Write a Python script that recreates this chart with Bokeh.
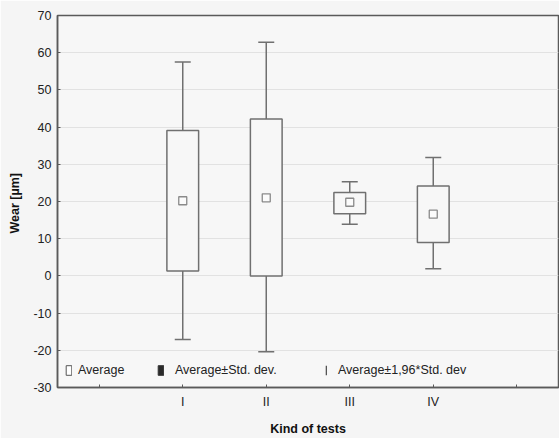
from bokeh.plotting import figure
from bokeh.models import (Range1d, FixedTicker, ColumnDataSource, Legend, LegendItem)
from bokeh.embed import file_html
from bokeh.resources import INLINE

categories = ["I", "II", "III", "IV"]
means = [20.2, 21.0, 19.8, 16.6]
sd_low = [1.3, 0.0, 16.7, 9.0]
sd_high = [39.1, 42.2, 22.4, 24.2]
ci_low = [-17.1, -20.4, 13.9, 1.9]
ci_high = [57.5, 62.8, 25.3, 31.8]
y_ticks = [-30, -20, -10, 0, 10, 20, 30, 40, 50, 60, 70]
legend_labels = ["Average", "Average±Std. dev.", "Average±1,96*Std. dev"]

xs = list(range(1, len(categories) + 1))
src = ColumnDataSource(dict(x=xs, mean=means, sdl=sd_low, sdh=sd_high, cil=ci_low, cih=ci_high))

FONT = "Liberation Sans"
LINE = "#707070"
BG = "#f7f7f7"

p = figure(width=559, height=438, output_backend="svg", toolbar_location=None,
           x_range=Range1d(-0.5, len(categories) + 1.5), y_range=Range1d(-30, 70),
           min_border_left=57, min_border_right=1, min_border_top=15, min_border_bottom=49,
           background_fill_color=BG, border_fill_color="#f5f5f5")

p.outline_line_color = "#5a5a5a"
p.outline_line_width = 1.5
p.xgrid.grid_line_color = None
p.ygrid.grid_line_color = "#e2e2e2"
p.ygrid.grid_line_width = 1

# whiskers
p.segment(x0="x", y0="cil", x1="x", y1="cih", source=src, line_color=LINE, line_width=1.5)
p.scatter(x="x", y="cil", source=src, marker="dash", size=16, line_color=LINE, line_width=1.5)
p.scatter(x="x", y="cih", source=src, marker="dash", size=16, line_color=LINE, line_width=1.5)
# boxes
p.vbar(x="x", width=0.38, bottom="sdl", top="sdh", source=src,
       fill_color=BG, line_color=LINE, line_width=1.5)
# means
p.scatter(x="x", y="mean", source=src, marker="square", size=8,
          fill_color="#fbfbfb", line_color="#8a8a8a", line_width=1.3)

# legend-only renderers (no visible data in the plot area)
nan = float("nan")
icon_avg = p.vbar(x=[nan], width=0, bottom=[nan], top=[nan], fill_color="#ffffff", line_color="#555555", line_width=1)
icon_sd = p.vbar(x=[nan], width=0, bottom=[nan], top=[nan], fill_color="#2a2a2a", line_color="#333333", line_width=1)
icon_ci = p.vbar(x=[nan], width=0, bottom=[nan], top=[nan], fill_color="#555555", line_color=None)

legend_specs = [
    (legend_labels[0], icon_avg, 8, 7, 6),
    (legend_labels[1], icon_sd, 100, 7, 11),
    (legend_labels[2], icon_ci, 268, 2, 11),
]
for label, r, xloc, gw, standoff in legend_specs:
    lg = Legend(items=[LegendItem(label=label, renderers=[r])],
                orientation="horizontal", location=(xloc, 10), padding=0, margin=0,
                glyph_width=gw, glyph_height=12, label_standoff=standoff, label_height=12,
                label_text_font=FONT, label_text_font_size="12.5px", label_text_color="#222222",
                background_fill_alpha=0, border_line_color=None)
    p.add_layout(lg, "center")

# axes
p.xaxis.ticker = FixedTicker(ticks=list(range(0, len(categories) + 2)))
overrides = {0: "", len(categories) + 1: ""}
for i, c in enumerate(categories):
    overrides[i + 1] = c
p.xaxis.major_label_overrides = overrides
p.yaxis.ticker = FixedTicker(ticks=y_ticks)
p.yaxis.major_label_overrides = {t: str(t) for t in y_ticks}

for ax in (p.xaxis[0], p.yaxis[0]):
    ax.axis_line_color = "#5a5a5a"
    ax.axis_line_width = 1.5
    ax.major_tick_in = 3
    ax.major_tick_out = 0
    ax.major_tick_line_color = "#5a5a5a"
    ax.minor_tick_line_color = None
    ax.major_label_text_font = FONT
    ax.major_label_text_font_size = "12.5px"
    ax.major_label_text_color = "#222222"
    ax.axis_label_text_font = FONT
    ax.axis_label_text_font_style = "bold"
    ax.axis_label_text_font_size = "12.5px"
    ax.axis_label_text_color = "#111111"

p.yaxis.axis_label = "Wear  [µm]"
p.yaxis.major_label_standoff = 6
p.yaxis.axis_label_standoff = 8
p.xaxis.axis_label = "Kind of tests"
p.xaxis.major_label_standoff = 7
p.xaxis.axis_label_standoff = 10

open("out.html", "w").write(file_html(p, INLINE))
